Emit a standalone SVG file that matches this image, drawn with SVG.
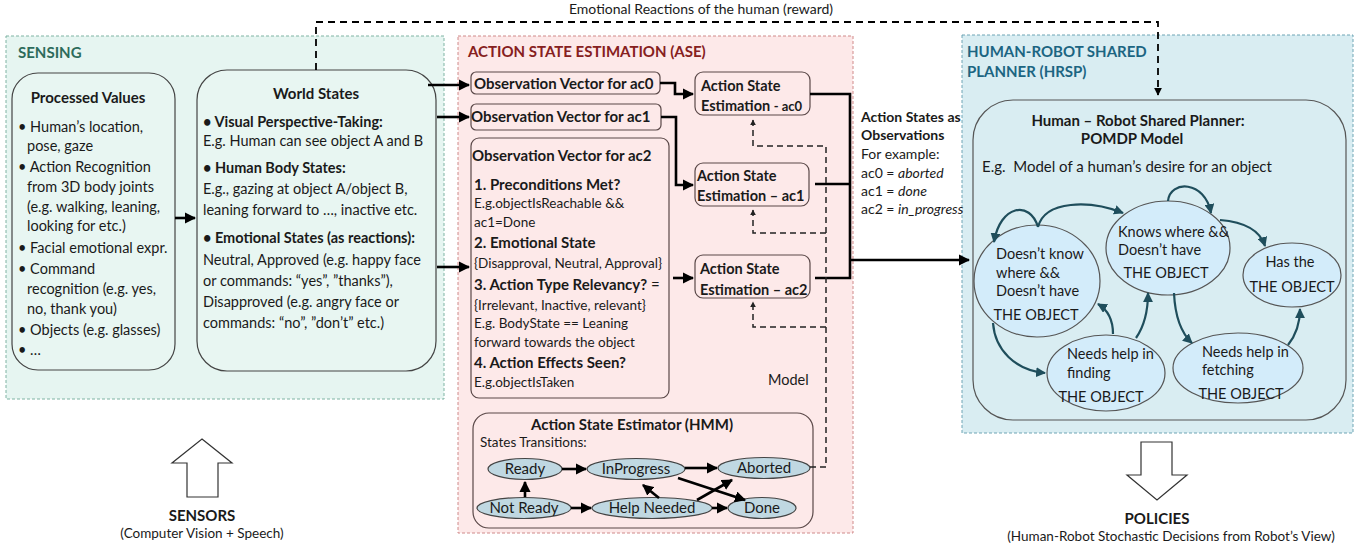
<svg xmlns="http://www.w3.org/2000/svg" width="1369" height="544" viewBox="0 0 1369 544">
<style>
text{font-family:Lato,"Liberation Sans",sans-serif;font-size:14.5px;fill:#1a1a1a}
.b{font-weight:bold}
.c{text-anchor:middle}
.i{font-style:italic}
.s13{font-size:13.5px}
.panelS{fill:#e6f5f1;stroke:#7fb3a3;stroke-width:1;stroke-dasharray:3 2}
.panelA{fill:#fde9e9;stroke:#d08a8a;stroke-width:1;stroke-dasharray:3 2}
.panelH{fill:#d9edf2;stroke:#6fa5b5;stroke-width:1;stroke-dasharray:3 2}
.boxS{fill:#e8f6f2;stroke:#444;stroke-width:1.2}
.boxA{fill:#fde9e9;stroke:#5a4848;stroke-width:1.2}
.boxH{fill:#d9edf2;stroke:#555;stroke-width:1.2}
.ellA{fill:#c0d8e2;stroke:#444;stroke-width:1.2}
.ellH{fill:#d3ecfa;stroke:#555;stroke-width:1.2}
.thick{fill:none;stroke:#000;stroke-width:2.6}
.dash{fill:none;stroke:#000;stroke-width:1.8;stroke-dasharray:7 5}
.dashS{fill:none;stroke:#222;stroke-width:1.5;stroke-dasharray:6 4}
.teal{fill:none;stroke:#1f4e5c;stroke-width:2.2}
.hollow{fill:#fff;stroke:#333;stroke-width:1.2}
</style>
<defs>
<marker id="ah" viewBox="0 0 10 10" refX="9" refY="5" markerWidth="4.3" markerHeight="4.3" orient="auto"><path d="M0,0 L10,5 L0,10 z" fill="#000"/></marker>
<marker id="ahs" viewBox="0 0 10 10" refX="9" refY="5" markerWidth="4" markerHeight="4" orient="auto"><path d="M0,0 L10,5 L0,10 z" fill="#222"/></marker>
<marker id="aht" viewBox="0 0 10 10" refX="9" refY="5" markerWidth="4.5" markerHeight="4.5" orient="auto"><path d="M0,0 L10,5 L0,10 z" fill="#1f4e5c"/></marker>
</defs>
<rect width="1369" height="544" fill="#fff"/>

<!-- Panels -->
<g id="panel-sensing">
<rect class="panelS" x="6" y="36" width="438" height="363"/>
<text class="b" x="18" y="58" style="fill:#2d6b5b;font-size:15px">SENSING</text>
</g>
<g id="panel-ase">
<rect class="panelA" x="458" y="36" width="395" height="497"/>
<text class="b" x="468" y="57" style="fill:#862020;font-size:15px">ACTION STATE ESTIMATION (ASE)</text>
<text x="768" y="385">Model</text>
</g>
<g id="panel-hrsp">
<rect class="panelH" x="962" y="35" width="391" height="398"/>
<text class="b" x="967" y="57" style="fill:#1c6582;font-size:15px">HUMAN-ROBOT SHARED</text>
<text class="b" x="967" y="77" style="fill:#1c6582;font-size:15px">PLANNER (HRSP)</text>
</g>

<!-- Sensing nodes -->
<g id="processed-values">
<rect class="boxS" x="12" y="73" width="163" height="297" rx="26"/>
<text class="b c" x="88" y="103" style="font-size:15px">Processed Values</text>
<text x="18" y="132">• Human’s location,</text>
<text x="27" y="151">pose, gaze</text>
<text x="18" y="172">• Action Recognition</text>
<text x="27" y="192">from 3D body joints</text>
<text x="27" y="212">(e.g. walking, leaning,</text>
<text x="27" y="231">looking for etc.)</text>
<text x="18" y="253">• Facial emotional expr.</text>
<text x="18" y="274">• Command</text>
<text x="27" y="294">recognition (e.g. yes,</text>
<text x="27" y="314">no, thank you)</text>
<text x="18" y="335">• Objects (e.g. glasses)</text>
<text x="18" y="355">• …</text>
</g>
<g id="world-states">
<rect class="boxS" x="197" y="70" width="239" height="301" rx="30"/>
<text class="b c" x="316" y="99" style="font-size:15px">World States</text>
<text class="b" x="203" y="127">• Visual Perspective-Taking:</text>
<text x="203" y="146">E.g. Human can see object A and B</text>
<text class="b" x="203" y="173">• Human Body States:</text>
<text x="203" y="194">E.g., gazing at object A/object B,</text>
<text x="203" y="215">leaning forward to …, inactive etc.</text>
<text class="b" x="203" y="243">• Emotional States (as reactions):</text>
<text x="203" y="265">Neutral, Approved (e.g. happy face</text>
<text x="203" y="286">or commands: “yes”, ”thanks”),</text>
<text x="203" y="307">Disapproved (e.g. angry face or</text>
<text x="203" y="328">commands: “no”, ”don’t” etc.)</text>
</g>

<!-- ASE nodes -->
<g id="obs-ac0">
<rect class="boxA" x="471" y="72" width="189" height="22" rx="5"/>
<text class="b" x="474" y="89" style="font-size:15px">Observation Vector for ac0</text>
</g>
<g id="obs-ac1">
<rect class="boxA" x="471" y="104" width="190" height="26" rx="5"/>
<text class="b" x="471" y="122" style="font-size:15px">Observation Vector for ac1</text>
</g>
<g id="obs-ac2">
<rect class="boxA" x="471" y="138" width="198" height="260" rx="8"/>
<text class="b" x="472" y="161" style="font-size:15px">Observation Vector for ac2</text>
<text class="b" x="474" y="190" style="font-size:15px">1. Preconditions Met?</text>
<text class="s13" x="474" y="208">E.g.objectIsReachable &amp;&amp;</text>
<text class="s13" x="474" y="227">ac1=Done</text>
<text class="b" x="474" y="248" style="font-size:15px">2. Emotional State</text>
<text class="s13" x="474" y="268">{Disapproval, Neutral, Approval}</text>
<text x="474" y="290" style="font-size:15px"><tspan class="b">3. Action Type Relevancy?</tspan> =</text>
<text class="s13" x="474" y="310">{Irrelevant, Inactive, relevant}</text>
<text class="s13" x="474" y="328">E.g. BodyState == Leaning</text>
<text class="s13" x="474" y="347">forward towards the object</text>
<text class="b" x="474" y="368" style="font-size:15px">4. Action Effects Seen?</text>
<text class="s13" x="474" y="387">E.g.objectIsTaken</text>
</g>
<g id="ase-ac0">
<rect class="boxA" x="695" y="72" width="115" height="43" rx="8"/>
<text class="b" x="701" y="91">Action State</text>
<text class="b" x="701" y="111">Estimation <tspan style="font-size:13px">- ac0</tspan></text>
</g>
<g id="ase-ac1">
<rect class="boxA" x="695" y="163" width="114" height="43" rx="8"/>
<text class="b" x="697" y="181">Action State</text>
<text class="b" x="697" y="201">Estimation – ac1</text>
</g>
<g id="ase-ac2">
<rect class="boxA" x="695" y="255" width="115" height="43" rx="8"/>
<text class="b" x="700" y="274">Action State</text>
<text class="b" x="700" y="295">Estimation – ac2</text>
</g>
<g id="observations-label">
<text class="b" x="861" y="122" style="font-size:14px">Action States as</text>
<text class="b" x="861" y="140" style="font-size:14px">Observations</text>
<text x="861" y="159" style="font-size:14px">For example:</text>
<text x="861" y="178" style="font-size:14px">ac0 = <tspan class="i">aborted</tspan></text>
<text x="861" y="196" style="font-size:14px">ac1 = <tspan class="i">done</tspan></text>
<text x="861" y="214" style="font-size:14px">ac2 = <tspan class="i">in_progress</tspan></text>
</g>

<!-- HMM -->
<g id="hmm">
<rect class="boxA" x="473" y="413" width="340" height="115" rx="16"/>
<text class="b c" x="632" y="430" style="font-size:15px">Action State Estimator (HMM)</text>
<text x="480" y="447" class="s13">States Transitions:</text>
</g>
<g id="hmm-ready"><ellipse class="ellA" cx="525" cy="469" rx="37" ry="10.5"/><text class="c" x="525" y="474" style="font-size:15px">Ready</text></g>
<g id="hmm-inprogress"><ellipse class="ellA" cx="636" cy="469" rx="49" ry="10.5"/><text class="c" x="636" y="474" style="font-size:15px">InProgress</text></g>
<g id="hmm-aborted"><ellipse class="ellA" cx="764" cy="468" rx="46" ry="10.5"/><text class="c" x="764" y="473" style="font-size:15px">Aborted</text></g>
<g id="hmm-notready"><ellipse class="ellA" cx="524" cy="508" rx="47" ry="10.5"/><text class="c" x="524" y="513" style="font-size:15px">Not Ready</text></g>
<g id="hmm-helpneeded"><ellipse class="ellA" cx="652" cy="508" rx="60" ry="10.5"/><text class="c" x="652" y="513" style="font-size:15px">Help Needed</text></g>
<g id="hmm-done"><ellipse class="ellA" cx="762" cy="508" rx="34" ry="10.5"/><text class="c" x="762" y="513" style="font-size:15px">Done</text></g>

<!-- HRSP -->
<g id="pomdp-model">
<rect class="boxH" x="973" y="100" width="373" height="320" rx="40"/>
<text class="b c" x="1138" y="126" style="font-size:15px">Human – Robot Shared Planner:</text>
<text class="b c" x="1132" y="144" style="font-size:15px">POMDP Model</text>
<text x="982" y="172" style="font-size:15px">E.g.&#160; Model of a human’s desire for an object</text>
</g>
<g id="s-dontknow"><ellipse class="ellH" cx="1037" cy="281" rx="63" ry="56"/>
<text x="996" y="259">Doesn’t know</text><text x="996" y="278">where &amp;&amp;</text><text x="996" y="296">Doesn’t have</text><text class="c" x="1036" y="320">THE OBJECT</text></g>
<g id="s-knows"><ellipse class="ellH" cx="1168" cy="248" rx="62" ry="47"/>
<text x="1118" y="237">Knows where &amp;&amp;</text><text x="1118" y="255">Doesn’t have</text><text class="c" x="1166" y="278">THE OBJECT</text></g>
<g id="s-has"><ellipse class="ellH" cx="1292" cy="275" rx="49" ry="32"/>
<text class="c" x="1290" y="267">Has the</text><text class="c" x="1292" y="292">THE OBJECT</text></g>
<g id="s-finding"><ellipse class="ellH" cx="1106" cy="373" rx="59" ry="38"/>
<text x="1067" y="359">Needs help in</text><text x="1067" y="378">finding</text><text class="c" x="1101" y="402">THE OBJECT</text></g>
<g id="s-fetching"><ellipse class="ellH" cx="1238" cy="368" rx="65" ry="35"/>
<text x="1202" y="357">Needs help in</text><text x="1202" y="375">fetching</text><text class="c" x="1241" y="399">THE OBJECT</text></g>

<!-- Big hollow arrows -->
<g id="sensors">
<path class="hollow" d="M202,439 L232,463 L218,463 L218,497 L187,497 L187,463 L172,463 Z"/>
<text class="b c" x="202" y="521" style="font-size:15px">SENSORS</text>
<text class="c" x="202" y="538" style="font-size:13.5px">(Computer Vision + Speech)</text>
</g>
<g id="policies">
<path class="hollow" d="M1141,442 L1172,442 L1172,475 L1187,475 L1157,500 L1127,475 L1141,475 Z"/>
<text class="b c" x="1157" y="524" style="font-size:15px">POLICIES</text>
<text class="c" x="1171" y="541" style="font-size:13.5px">(Human-Robot Stochastic Decisions from Robot’s View)</text>
</g>

<text class="c" x="701" y="14" style="font-size:14px">Emotional Reactions of the human (reward)</text>

<!-- Connectors -->
<g id="connectors">
<path class="dash" d="M316,70 L316,22 L1158,22 L1158,95" marker-end="url(#ah)"/>
<path class="thick" d="M175,218 L195,218" marker-end="url(#ah)"/>
<path class="thick" d="M428,85 L469,85" marker-end="url(#ah)"/>
<path class="thick" d="M437,117 L469,117" marker-end="url(#ah)"/>
<path class="thick" d="M437,267 L469,267" marker-end="url(#ah)"/>
<path class="thick" d="M660,83 L675,83 L675,94 L693,94" marker-end="url(#ah)"/>
<path class="thick" d="M661,117 L676,117 L676,185 L693,185" marker-end="url(#ah)"/>
<path class="thick" d="M673,278 L693,278" marker-end="url(#ah)"/>
<path class="thick" d="M810,94 L850,94 L850,278 L815,278"/>
<path class="thick" d="M815,184 L850,184"/>
<path class="thick" d="M850,260 L969,260" marker-end="url(#ah)"/>
<path class="dashS" d="M810,467 L826,467 L826,146 L753,146 L753,120" marker-end="url(#ahs)"/>
<path class="dashS" d="M826,233 L753,233 L753,210" marker-end="url(#ahs)"/>
<path class="dashS" d="M826,327 L753,327 L753,302" marker-end="url(#ahs)"/>
<!-- HMM transitions -->
<path class="thick" d="M562,469 L586,469" marker-end="url(#ah)"/>
<path class="thick" d="M685,468 L717,468" marker-end="url(#ah)"/>
<path class="thick" d="M525,497 L525,482" marker-end="url(#ah)"/>
<path class="thick" d="M571,508 L591,508" marker-end="url(#ah)"/>
<path class="thick" d="M712,508 L727,508" marker-end="url(#ah)"/>
<path class="thick" d="M659,498 L643,485" marker-end="url(#ah)"/>
<path class="thick" d="M678,478 L745,500" marker-end="url(#ah)"/>
<path class="thick" d="M697,500 L732,480" marker-end="url(#ah)"/>
<!-- POMDP transitions -->
<path class="teal" d="M1038,227 C1030,200 1000,205 994,242" marker-end="url(#aht)"/>
<path class="teal" d="M1038,227 C1045,200 1090,200 1123,213" marker-end="url(#aht)"/>
<path class="teal" d="M1168,201 C1170,180 1205,180 1211,213" marker-end="url(#aht)"/>
<path class="teal" d="M1220,220 C1245,222 1260,230 1265,246" marker-end="url(#aht)"/>
<path class="teal" d="M1174,293 C1175,315 1180,332 1192,343" marker-end="url(#aht)"/>
<path class="teal" d="M1288,345 C1296,335 1300,322 1300,309" marker-end="url(#aht)"/>
<path class="teal" d="M1136,338 C1145,325 1148,310 1148,293" marker-end="url(#aht)"/>
<path class="teal" d="M1113,334 C1113,320 1108,310 1098,304" marker-end="url(#aht)"/>
<path class="teal" d="M993,323 C995,350 1015,370 1045,373" marker-end="url(#aht)"/>
</g>
</svg>
